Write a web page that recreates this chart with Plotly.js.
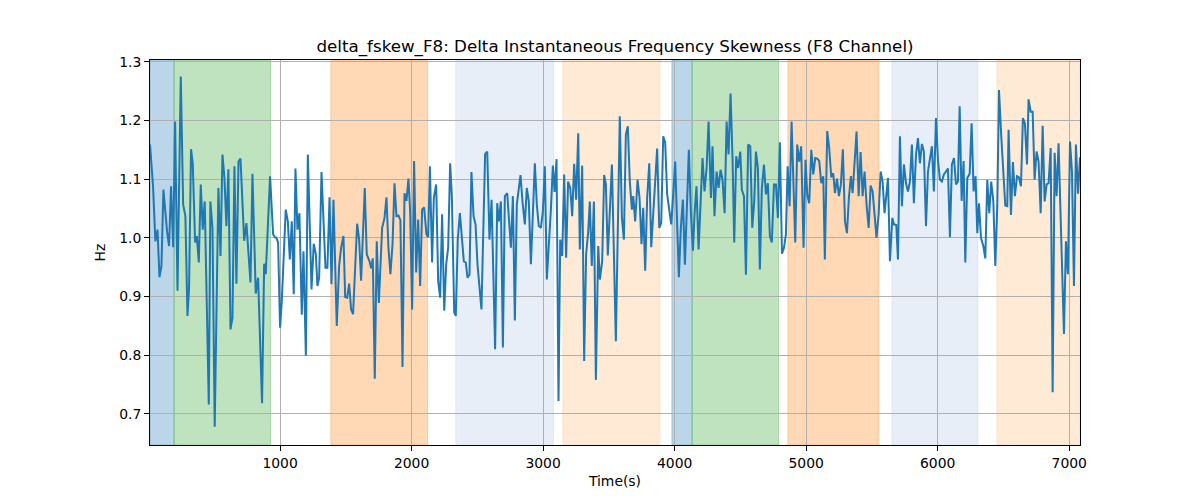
<!DOCTYPE html>
<html>
<head>
<meta charset="utf-8">
<script src="https://cdn.plot.ly/plotly-3.0.1.min.js"></script>
<style>html,body{margin:0;padding:0;background:#fff;}#chart{width:1200px;height:500px;}</style>
</head>
<body>
<div id="chart"></div>
<script>
// Time (s)
const timeS = [
11,34,52,68,83,98,113,126,141,156,171,187,202,220,245,263,280,296,308,323,336,354,367,382,397,412,427,458,470,486,503,531,547,562,577,592,607,623,638,653,668,684,699,
727,744,775,790,815,833,863,879,891,924,947,960,972,985,1000,1013,1043,1059,1074,1089,1104,1117,1132,1147,1165,1178,1196,1211,1239,1256,1272,1284,1297,1315,1345,1360,1376,1391,
1406,1431,1449,1464,1482,1495,1510,1525,1540,1555,1586,1601,1616,1644,1659,1680,1692,1705,1720,1735,1751,1776,1794,1809,1824,1839,1855,1870,1885,1900,1915,1931,1946,1961,1976,1989,2004,2019,2035,2050,2065,2080,2095,
2113,2126,2139,2156,2169,2187,2202,2217,2232,2248,2263,2278,2293,2306,2324,2336,2351,2367,2382,2397,2412,2425,2440,2455,2471,2486,2501,2516,2531,2559,2575,2592,2608,2635,2651,2663,2679,2694,2709,2727,2742,2755,2770,2785,2800,2815,
2828,2843,2861,2876,2891,2907,2937,2952,2967,2983,2998,3013,3028,3059,3074,3087,3102,3117,3130,3145,3160,3175,3190,3206,3221,3236,3251,3267,3279,3297,3312,3327,3343,3355,3370,3386,3401,3419,3431,3449,3464,3477,3492,
3523,3553,3583,3599,3614,3629,3644,3659,3675,3685,3700,3718,3733,3748,3761,3776,3791,3807,3822,3837,3852,3867,3883,3898,3913,3928,3943,3959,3974,3989,4004,4032,4047,4063,4078,4093,4108,4123,4139,4151,4166,4182,4212,
4227,4243,4258,4276,4288,4303,4319,4334,4349,4364,4380,4395,4410,4425,4440,4453,4468,4483,4499,4511,4527,4542,4559,4575,4590,4605,4618,4633,4648,4663,4679,4694,4709,4724,4739,4755,4770,4785,4800,4816,4831,4846,4859,4874,4889,
4917,4932,4947,4962,4980,4995,5008,5023,5039,5054,5069,5084,5099,5115,5130,5142,5160,5175,5191,5206,5219,5234,5249,5264,5279,5295,5310,5325,5340,5353,5368,5383,5399,5414,5429,5444,5459,5475,5490,5505,5520,5535,5551,5566,5581,5596,
5622,5637,5655,5667,5685,5698,5713,5728,5743,5759,5774,5789,5804,5819,5835,5850,5865,5880,5895,5911,5926,5941,5956,5971,5987,6002,6017,6032,6047,6063,6078,6093,6108,6124,6139,6154,6167,6182,6197,6210,6225,6243,6258,6273,6288,6301,6314,
6329,6347,6362,6377,6392,6407,6423,6438,6453,6466,6484,6499,6514,6529,6539,6557,6572,6587,6603,6618,6633,6648,6663,6679,6691,6707,6722,6737,6752,6767,6783,6798,6813,6828,6843,6859,6874,6889,6904,6919,6942,6960,6975,6990,7006,7021,7036,7051,7067,7082
];
// delta_fskew_F8 (Hz)
const deltaFskew = [
1.159,1.088,0.994,1.014,0.933,0.952,1.082,1.040,1.010,0.986,1.088,0.984,1.198,0.910,1.275,1.057,1.037,0.867,0.915,1.151,1.127,0.992,1.003,0.958,1.091,1.014,1.062,0.716,1.062,1.017,0.678,1.085,0.969,1.142,1.102,1.020,1.117,0.844,0.864,1.122,0.922,1.130,1.135,
0.995,1.025,0.924,1.109,0.905,0.932,0.718,0.956,0.938,1.105,1.006,1.001,1.000,0.992,0.847,0.892,1.048,1.028,0.963,1.028,0.904,1.118,1.014,1.042,0.869,0.977,0.799,1.142,0.912,0.990,0.972,0.918,0.932,1.112,0.949,0.949,1.069,0.921,
1.065,0.850,0.952,0.983,1.003,0.899,0.898,0.922,0.878,0.870,1.024,0.997,0.927,1.085,0.972,0.960,0.948,0.965,0.760,0.994,0.889,1.017,1.034,1.069,0.983,0.938,0.989,1.093,1.037,1.038,1.030,0.780,1.076,1.063,1.101,1.045,0.878,1.131,0.941,1.031,0.918,1.048,1.052,
1.006,1.001,1.122,0.958,1.068,1.091,0.926,0.898,1.040,0.876,0.955,0.983,1.127,1.071,0.873,0.867,0.997,1.042,1.006,0.960,0.958,0.932,0.937,1.112,1.037,1.023,0.955,0.915,0.878,1.143,1.147,0.997,1.065,0.810,1.059,1.028,1.062,0.813,1.071,1.076,1.017,0.983,1.071,0.859,1.057,1.080,
1.107,1.062,1.023,1.085,1.062,0.955,1.127,1.057,1.020,1.017,1.045,1.122,0.929,1.048,1.123,1.078,1.134,0.722,0.997,0.969,1.108,0.966,1.096,1.085,1.037,1.126,1.065,1.178,0.980,1.123,0.790,0.972,1.011,1.062,0.952,1.062,0.758,0.986,0.929,0.960,1.107,1.091,0.970,
1.125,0.824,1.207,1.034,0.997,1.176,1.190,1.096,1.048,1.071,1.028,1.099,1.068,0.989,1.051,0.944,1.068,1.127,0.984,1.045,1.096,1.152,1.017,1.025,1.173,1.162,1.074,1.045,1.023,1.074,1.130,0.933,1.017,1.065,0.954,1.051,1.150,1.045,0.978,1.040,1.088,0.980,1.136,
1.079,1.119,1.198,1.068,1.156,1.037,1.113,1.085,1.116,1.099,1.042,1.198,1.142,1.246,1.136,0.992,1.139,1.119,1.147,1.082,1.071,0.937,1.159,1.156,1.017,1.062,1.147,1.119,0.946,1.085,1.125,1.074,1.093,1.003,0.992,1.091,1.091,1.034,1.163,0.973,0.983,1.006,1.122,1.054,1.198,
0.992,1.159,1.130,1.156,0.983,1.133,1.074,1.059,1.150,1.108,1.136,1.135,1.131,1.093,1.105,0.963,1.182,1.153,1.103,1.110,1.076,1.101,1.071,1.091,1.151,1.028,1.008,1.068,1.105,1.076,1.125,1.181,1.071,1.146,1.071,1.113,1.057,1.017,1.089,1.079,1.040,1.000,1.040,1.113,1.096,1.042,
1.102,0.960,1.034,1.023,1.022,0.963,1.173,1.054,1.125,1.093,1.079,1.096,1.159,1.059,1.142,1.170,1.127,1.160,1.147,1.020,1.113,1.133,1.156,1.079,1.204,1.133,1.099,1.096,1.108,1.113,1.118,1.001,1.125,1.136,1.091,1.096,1.224,1.063,1.131,0.958,1.102,1.109,1.195,1.079,1.105,1.008,1.059,
1.000,0.986,0.965,1.099,1.042,1.096,1.062,0.952,1.054,1.252,1.170,1.113,1.055,1.054,1.184,1.039,1.129,1.071,1.105,1.103,1.088,1.204,1.195,1.125,1.236,1.215,1.215,1.099,1.147,1.130,1.042,1.191,1.062,1.091,1.093,1.153,0.737,1.145,1.071,1.161,0.986,0.836,0.994,0.938,1.164,1.113,0.918,1.159,1.075,1.137
];
// Shaded segments
const spanStart = [11, 194, 1386, 2336, 3150, 3979, 4133, 4861, 5652, 6450];
const spanEnd   = [194, 927, 2121, 3079, 3888, 4133, 4790, 5551, 6306, 7082];
const spanColor = ['31,119,180','44,160,44','255,127,14','174,199,232','255,187,120',
                   '31,119,180','44,160,44','255,127,14','174,199,232','255,187,120'];
const xTicks = [1000, 2000, 3000, 4000, 5000, 6000, 7000];
const yTicks = [0.7, 0.8, 0.9, 1.0, 1.1, 1.2, 1.3];

const shapes = spanStart.map((s, i) => ({
  type: 'rect', xref: 'x', yref: 'paper', x0: s, x1: spanEnd[i], y0: 0, y1: 1,
  fillcolor: 'rgba(' + spanColor[i] + ',0.3)',
  line: {color: 'rgba(' + spanColor[i] + ',0.3)', width: 1},
  layer: 'below'
}));

const trace = {
  x: timeS, y: deltaFskew, type: 'scatter', mode: 'lines',
  line: {color: '#1f77b4', width: 2}, hoverinfo: 'skip'
};

// Grid lines drawn as a transparent overlay so they sit above the shaded spans
const font = {family: 'DejaVu Sans, sans-serif', size: 13.9, color: '#000'};
const layout = {
  width: 1200, height: 500,
  margin: {l: 150, r: 120, t: 60, b: 55},
  paper_bgcolor: '#fff', plot_bgcolor: 'rgba(0,0,0,0)',
  font: font,
  showlegend: false,
  title: {
    text: 'delta_fskew_F8: Delta Instantaneous Frequency Skewness (F8 Channel)',
    font: {family: 'DejaVu Sans, sans-serif', size: 16.7, color: '#000'},
    x: 0.5125, xref: 'container', xanchor: 'center',
    y: 0.908, yref: 'container', yanchor: 'middle'
  },
  xaxis: {
    range: [11, 7082], tickvals: xTicks, ticktext: xTicks.map(String),
    showgrid: true, gridcolor: '#b0b0b0', gridwidth: 1, layer: 'above traces',
    zeroline: false, showline: true, linecolor: '#000', linewidth: 1, mirror: true,
    ticks: 'outside', ticklen: 5, tickwidth: 1, tickcolor: '#000',
    tickfont: font,
    title: {text: 'Time(s)', font: font, standoff: 6}
  },
  yaxis: {
    range: [0.647, 1.303], tickvals: yTicks, ticktext: yTicks.map(v => v.toFixed(1)),
    showgrid: true, gridcolor: '#b0b0b0', gridwidth: 1,
    zeroline: false, showline: true, linecolor: '#000', linewidth: 1, mirror: true,
    ticks: 'outside', ticklen: 5, tickwidth: 1, tickcolor: '#000',
    tickfont: font,
    title: {text: 'Hz', font: font, standoff: 10}
  },
  shapes: shapes.map(s => Object.assign({}, s, {layer: 'between'}))
};

Plotly.newPlot('chart', [trace], layout, {staticPlot: true, displayModeBar: false});
</script>
</body>
</html>
